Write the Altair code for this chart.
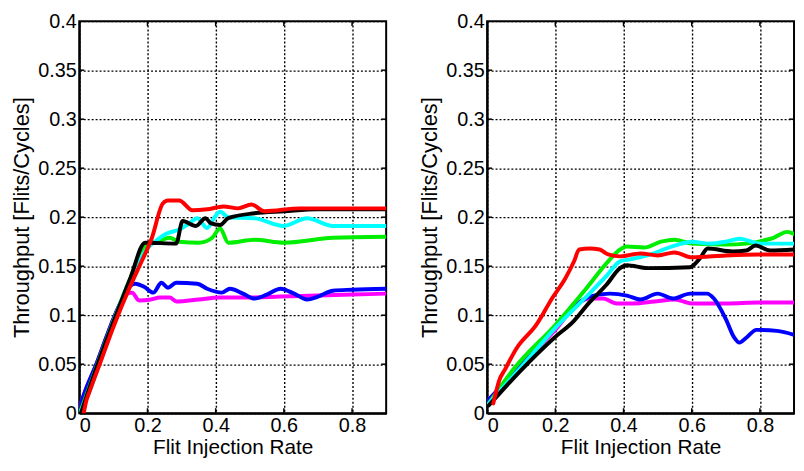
import altair as alt
import pandas as pd

# ---------------- data ----------------
x_ticks = [0.2, 0.4, 0.6, 0.8]
x_label_values = [0, 0.2, 0.4, 0.6, 0.8]
y_ticks = [0.05, 0.1, 0.15, 0.2, 0.25, 0.3, 0.35]
y_label_values = [0, 0.05, 0.1, 0.15, 0.2, 0.25, 0.3, 0.35, 0.4]

# Left panel
L_magenta_x = [0.0, 0.02, 0.05, 0.08, 0.1, 0.12, 0.14, 0.155, 0.175, 0.21, 0.236, 0.265, 0.285, 0.35, 0.41, 0.5, 0.59, 0.7, 0.8, 0.9]
L_magenta_y = [0.005, 0.025, 0.05, 0.078, 0.096, 0.112, 0.122, 0.123, 0.115, 0.116, 0.118, 0.118, 0.114, 0.116, 0.118, 0.118, 0.119, 0.12, 0.121, 0.122]

L_blue_x = [0.0, 0.02, 0.05, 0.08, 0.1, 0.12, 0.14, 0.164, 0.19, 0.217, 0.241, 0.26, 0.284, 0.346, 0.375, 0.418, 0.442, 0.48, 0.514, 0.55, 0.59, 0.63, 0.668, 0.7, 0.744, 0.8, 0.9]
L_blue_y = [0.005, 0.025, 0.05, 0.078, 0.096, 0.112, 0.126, 0.132, 0.129, 0.123, 0.133, 0.128, 0.133, 0.132, 0.127, 0.123, 0.127, 0.122, 0.117, 0.121, 0.127, 0.122, 0.116, 0.119, 0.125, 0.126, 0.127]

L_green_x = [0.005, 0.05, 0.1, 0.15, 0.2, 0.23, 0.265, 0.293, 0.351, 0.39, 0.413, 0.437, 0.514, 0.6, 0.744, 0.9]
L_green_y = [0.003, 0.047, 0.094, 0.138, 0.172, 0.175, 0.179, 0.175, 0.174, 0.179, 0.1885, 0.174, 0.177, 0.174, 0.179, 0.18]

L_cyan_x = [0.005, 0.03, 0.06, 0.1, 0.15, 0.202, 0.225, 0.255, 0.293, 0.32, 0.346, 0.375, 0.395, 0.413, 0.437, 0.514, 0.6, 0.668, 0.744, 0.8, 0.9]
L_cyan_y = [0.003, 0.022, 0.053, 0.093, 0.137, 0.169, 0.176, 0.183, 0.1875, 0.193, 0.199, 0.189, 0.199, 0.2055, 0.2, 0.199, 0.191, 0.199, 0.191, 0.191, 0.191]

L_black_x = [0.005, 0.05, 0.1, 0.15, 0.193, 0.284, 0.303, 0.342, 0.37, 0.385, 0.413, 0.437, 0.514, 0.6, 0.7, 0.9]
L_black_y = [0.0, 0.046, 0.093, 0.138, 0.174, 0.173, 0.196, 0.191, 0.199, 0.194, 0.192, 0.199, 0.204, 0.206, 0.208, 0.208]

L_red_x = [0.013, 0.02, 0.03, 0.06, 0.1, 0.15, 0.183, 0.212, 0.245, 0.26, 0.293, 0.332, 0.375, 0.423, 0.466, 0.505, 0.543, 0.648, 0.9]
L_red_y = [0.0, 0.012, 0.022, 0.05, 0.088, 0.13, 0.155, 0.178, 0.214, 0.217, 0.217, 0.207, 0.208, 0.211, 0.209, 0.213, 0.206, 0.209, 0.209]

# Right panel
R_magenta_x = [0.0, 0.1, 0.15, 0.2, 0.27, 0.3, 0.34, 0.38, 0.43, 0.49, 0.55, 0.6, 0.7, 0.8, 0.9]
R_magenta_y = [0.012, 0.048, 0.067, 0.085, 0.113, 0.117, 0.117, 0.112, 0.112, 0.114, 0.116, 0.112, 0.112, 0.113, 0.113]

R_blue_x = [0.0, 0.1, 0.2, 0.26, 0.3, 0.36, 0.41, 0.45, 0.5, 0.545, 0.595, 0.645, 0.665, 0.7, 0.725, 0.74, 0.76, 0.79, 0.85, 0.9]
R_blue_y = [0.012, 0.05, 0.088, 0.11, 0.119, 0.122, 0.12, 0.116, 0.122, 0.117, 0.122, 0.122, 0.117, 0.096, 0.077, 0.072, 0.077, 0.085, 0.084, 0.08]

R_green_x = [0.005, 0.08, 0.2, 0.29, 0.355, 0.39, 0.41, 0.46, 0.51, 0.55, 0.6, 0.7, 0.76, 0.82, 0.84, 0.88, 0.9]
R_green_y = [0.01, 0.046, 0.09, 0.127, 0.155, 0.167, 0.17, 0.169, 0.175, 0.177, 0.173, 0.172, 0.173, 0.177, 0.179, 0.185, 0.183]

R_cyan_x = [0.005, 0.1, 0.2, 0.3, 0.35, 0.39, 0.42, 0.47, 0.55, 0.6, 0.65, 0.7, 0.74, 0.8, 0.9]
R_cyan_y = [0.01, 0.047, 0.087, 0.122, 0.14, 0.155, 0.157, 0.161, 0.171, 0.175, 0.173, 0.175, 0.178, 0.173, 0.173]

R_black_x = [0.005, 0.1, 0.197, 0.254, 0.3, 0.35, 0.39, 0.41, 0.47, 0.595, 0.624, 0.647, 0.72, 0.76, 0.787, 0.83, 0.9]
R_black_y = [0.008, 0.044, 0.077, 0.094, 0.113, 0.131, 0.148, 0.151, 0.148, 0.149, 0.158, 0.168, 0.165, 0.166, 0.171, 0.166, 0.167]

R_red_x = [0.018, 0.025, 0.035, 0.053, 0.086, 0.144, 0.192, 0.23, 0.255, 0.27, 0.3, 0.33, 0.355, 0.39, 0.45, 0.5, 0.55, 0.6, 0.7, 0.8, 0.9]
R_red_y = [0.01, 0.02, 0.033, 0.045, 0.066, 0.09, 0.118, 0.138, 0.155, 0.167, 0.168, 0.167, 0.162, 0.16, 0.163, 0.161, 0.164, 0.159, 0.161, 0.162, 0.162]

series_colors = {"magenta": "#ff00ff", "blue": "#0000ff", "green": "#00ee00",
                 "cyan": "#00ffff", "black": "#000000", "red": "#ff0000"}

left_series = [("magenta", L_magenta_x, L_magenta_y), ("blue", L_blue_x, L_blue_y),
               ("green", L_green_x, L_green_y), ("cyan", L_cyan_x, L_cyan_y),
               ("black", L_black_x, L_black_y), ("red", L_red_x, L_red_y)]
right_series = [("magenta", R_magenta_x, R_magenta_y), ("blue", R_blue_x, R_blue_y),
                ("green", R_green_x, R_green_y), ("cyan", R_cyan_x, R_cyan_y),
                ("black", R_black_x, R_black_y), ("red", R_red_x, R_red_y)]

W, H = 310, 396
FONT = "Liberation Sans"

xscale = alt.Scale(domain=[0, 0.9], nice=False, zero=False)
yscale = alt.Scale(domain=[0, 0.4], nice=False)

xaxis = alt.Axis(values=x_label_values, format="~g", title="Flit Injection Rate",
                 labelPadding=3, titlePadding=1, titleFontSize=21)
yaxis = alt.Axis(values=y_label_values, format="~g", title="Throughput [Flits/Cycles]",
                 labelPadding=3, titlePadding=4, titleFontSize=22)

X = lambda: alt.X("x:Q", scale=xscale, axis=xaxis)
Y = lambda: alt.Y("y:Q", scale=yscale, axis=yaxis)


def panel(series):
    layers = []
    for name, xs, ys in series:
        df = pd.DataFrame({"x": xs, "y": ys})
        layers.append(
            alt.Chart(df).mark_line(color=series_colors[name], strokeWidth=4,
                                    interpolate="monotone", clip=True,
                                    strokeCap="round", strokeJoin="round")
            .encode(x=X(), y=Y())
        )
    xt = pd.DataFrame({"x": x_ticks})
    yt = pd.DataFrame({"y": y_ticks})
    tick_style = dict(color="black", strokeWidth=1.5)
    layers.append(alt.Chart(xt).mark_rule(**tick_style).encode(x=X(), y=alt.value(0), y2=alt.value(5)))
    layers.append(alt.Chart(xt).mark_rule(**tick_style).encode(x=X(), y=alt.value(H), y2=alt.value(H - 5)))
    layers.append(alt.Chart(yt).mark_rule(**tick_style).encode(y=Y(), x=alt.value(0), x2=alt.value(5)))
    layers.append(alt.Chart(yt).mark_rule(**tick_style).encode(y=Y(), x=alt.value(W), x2=alt.value(W - 5)))
    return alt.layer(*layers).properties(width=W, height=H)


chart = (
    alt.hconcat(panel(left_series), panel(right_series), spacing=30)
    .properties(padding={"left": 2, "top": 0, "right": 0, "bottom": 0}, background="white")
    .configure_view(stroke="black", strokeWidth=2)
    .configure_axis(
        grid=True, gridColor="black", gridOpacity=1, gridDash=[2, 2], gridWidth=1.4,
        domainColor="black", domainWidth=2, ticks=False,
        labelFont=FONT, labelFontSize=20, labelColor="black",
        titleFont=FONT, titleFontWeight="normal", titleColor="black",
    )
)

chart.save("out.html", embed_options={"renderer": "svg", "actions": False})
